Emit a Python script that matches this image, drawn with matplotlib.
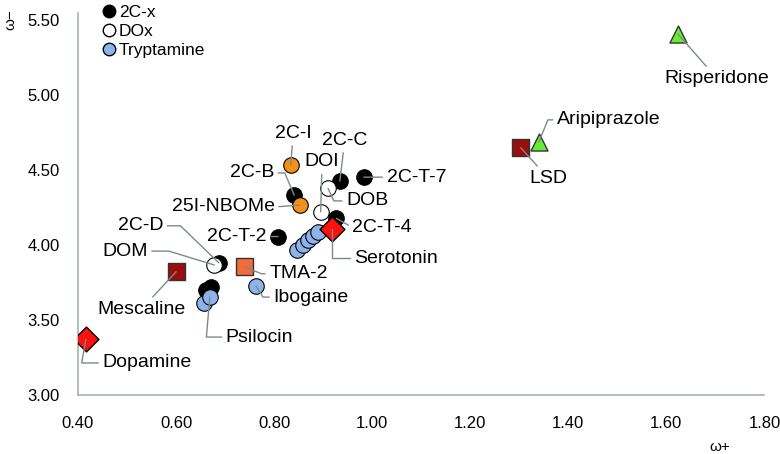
import matplotlib
matplotlib.use("Agg")
import matplotlib.pyplot as plt
from matplotlib.lines import Line2D

plt.rcParams['font.family'] = ['Liberation Sans', 'DejaVu Sans']

# ---------------- data ----------------
# 2C-x (black circles)
c2x_names = ['2C-C', '2C-T-7', '2C-B', '2C-T-4', '2C-T-2', '2C-D', '', '']
c2x_x = [0.934, 0.983, 0.841, 0.927, 0.808, 0.687, 0.661, 0.671]
c2x_y = [4.427, 4.453, 4.333, 4.178, 4.057, 3.882, 3.700, 3.722]

# highlighted 2C-x (orange circles)
hl_names = ['2C-I', '25I-NBOMe']
hl_x = [0.834, 0.852]
hl_y = [4.533, 4.267]

# DOx (white circles)
dox_names = ['DOB', 'DOI', 'DOM']
dox_x = [0.910, 0.895, 0.678]
dox_y = [4.378, 4.222, 3.867]

# Tryptamines (blue circles)
trp_names = ['', '', '', '', '', 'Ibogaine', '', 'Psilocin']
trp_x = [0.847, 0.859, 0.870, 0.879, 0.889, 0.763, 0.656, 0.669]
trp_y = [3.967, 4.000, 4.033, 4.060, 4.089, 3.727, 3.611, 3.655]

# squares
sq_names = ['Mescaline', 'LSD', 'TMA-2']
sq_x = [0.600, 1.303, 0.739]
sq_y = [3.822, 4.649, 3.855]
sq_colors = ['#9A0E0E', '#9A0E0E', '#F26B38']

# diamonds (monoamines)
dia_names = ['Dopamine', 'Serotonin']
dia_x = [0.416, 0.918]
dia_y = [3.371, 4.107]

# triangles (antipsychotics)
tri_names = ['Risperidone', 'Aripiprazole']
tri_x = [1.624, 1.340]
tri_y = [5.407, 4.687]

x_ticks = [0.40, 0.60, 0.80, 1.00, 1.20, 1.40, 1.60, 1.80]
y_ticks = [3.00, 3.50, 4.00, 4.50, 5.00, 5.50]

# label placement: (dx, dy) in points, horizontal alignment, elbow angle at the point (None = straight)
label_pos = {
    'Risperidone': (28, -32, 'center', None),
    'Aripiprazole': (13, 16, 'left', 68),
    'LSD': (20, -22, 'center', None),
    '2C-T-7': (16.5, 0, 'left', None),
    '2C-C': (3.6, 29.5, 'center', None),
    'DOI': (1, 36, 'center', None),
    'DOB': (13, -9, 'left', -65),
    '2C-T-4': (11.5, -6.5, 'left', None),
    'Serotonin': (16, -21, 'left', 90),
    '2C-I': (1.7, 23, 'center', None),
    '2C-B': (-14.5, 16, 'right', -67),
    '25I-NBOMe': (-18, -1.4, 'right', None),
    '2C-T-2': (-8, 0, 'right', None),
    '2C-D': (-40, 26.6, 'right', -44),
    'DOM': (-48, 10, 'right', -17),
    'Mescaline': (-25, -27, 'center', None),
    'Psilocin': (11.5, -29, 'left', 85),
    'Dopamine': (12, -17, 'left', 80),
    'TMA-2': (18, -5, 'left', -22),
    'Ibogaine': (12.5, -8, 'left', -58),
}

# ---------------- figure ----------------
fig = plt.figure(figsize=(7.8, 4.54), dpi=100)
ax = fig.add_axes([0.1, 0.130, 0.880, 0.842])

edge = 'black'
s_circ = 125
ax.scatter(c2x_x, c2x_y, s=s_circ, c='black', edgecolors=edge, linewidths=0.8, zorder=3)
ax.scatter(hl_x, hl_y, s=s_circ, c='#F39019', edgecolors=edge, linewidths=0.8, zorder=4)
ax.scatter(dox_x, dox_y, s=s_circ, c='white', edgecolors=edge, linewidths=0.8, zorder=4)
ax.scatter(trp_x, trp_y, s=s_circ, c='#8DB4EA', edgecolors=edge, linewidths=0.8, zorder=4)
ax.scatter(sq_x, sq_y, s=150, marker='s', c=sq_colors, edgecolors='#333333', linewidths=1.0, zorder=4)
ax.scatter(dia_x, dia_y, s=160, marker='D', c='#FF1010', edgecolors=edge, linewidths=1.0, zorder=5)
ax.scatter(tri_x, tri_y, s=150, marker='^', c='#66EE33', edgecolors='#333333', linewidths=1.0, zorder=4)

groups = [(c2x_names, c2x_x, c2x_y), (hl_names, hl_x, hl_y), (dox_names, dox_x, dox_y),
          (trp_names, trp_x, trp_y), (sq_names, sq_x, sq_y), (dia_names, dia_x, dia_y),
          (tri_names, tri_x, tri_y)]
for names, xs, ys in groups:
    for n, x, y in zip(names, xs, ys):
        if not n:
            continue
        dx, dy, ha, ang = label_pos[n]
        rel = {'left': (0.0, 0.5), 'right': (1.0, 0.5), 'center': (0.5, 0.5)}[ha]
        cs = 'arc3,rad=0' if ang is None else f'angle,angleA=0,angleB={ang},rad=0'
        ax.annotate(n, xy=(x, y), xytext=(dx, dy), textcoords='offset points',
                    ha=ha, va='center', fontsize=14, color='black', zorder=6,
                    arrowprops=dict(arrowstyle='-', color='#7D8A8A', lw=1.0,
                                    shrinkA=1, shrinkB=0, relpos=rel,
                                    connectionstyle=cs))

ax.set_xlim(0.40, 1.80)
ax.set_ylim(3.00, 5.55)
ax.set_xticks(x_ticks)
ax.set_xticklabels([f'{v:.2f}' for v in x_ticks])
ax.set_yticks(y_ticks)
ax.set_yticklabels([f'{v:.2f}' for v in y_ticks])
ax.tick_params(axis='both', length=0, labelsize=12)
ax.tick_params(axis='x', pad=15)
ax.tick_params(axis='y', pad=13)

for sp in ['top', 'right']:
    ax.spines[sp].set_visible(False)
for sp in ['left', 'bottom']:
    ax.spines[sp].set_color('#A8B0B0')
    ax.spines[sp].set_linewidth(1.2)

fig.text(720 / 780, 1 - 447 / 454, 'ω+', ha='center', va='center', fontsize=11)
fig.text(10 / 780, 1 - 20 / 454, 'ω−', ha='center', va='center', fontsize=11, rotation=90)

handles = [
    Line2D([], [], marker='o', ls='', mfc='black', mec='black', ms=9, label='2C-x'),
    Line2D([], [], marker='o', ls='', mfc='white', mec='black', ms=9, label='DOx'),
    Line2D([], [], marker='o', ls='', mfc='#8DB4EA', mec='black', ms=9, label='Tryptamine'),
]
fig.legend(handles=handles, loc='upper left', bbox_to_anchor=(98 / 780, 1 - 3 / 454),
           frameon=False, fontsize=12.5, handletextpad=0.0, handlelength=1.1,
           labelspacing=0.22, borderaxespad=0, borderpad=0.1)

fig.savefig('out.png', dpi=100)
